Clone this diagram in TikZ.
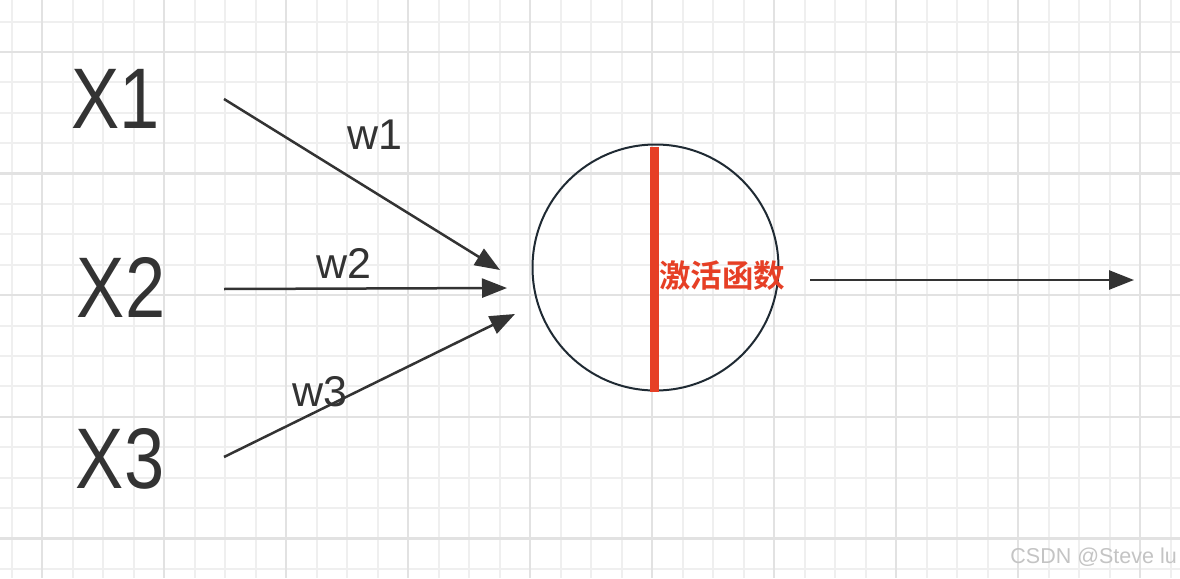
\documentclass[tikz,border=0pt]{standalone}
\usepackage{fontspec}
\setmainfont{Liberation Sans}
\newfontfamily\cjk{Noto Sans CJK SC Bold}
\usetikzlibrary{arrows.meta}
\definecolor{ink}{HTML}{333333}
\definecolor{rim}{HTML}{1F2A33}
\definecolor{actred}{HTML}{E63F25}
\definecolor{gridminor}{HTML}{EFEFEF}
\definecolor{gridmajor}{HTML}{E2E2E2}
\definecolor{wm}{HTML}{C4C4C4}
\newcommand{\narrowx}[1]{\scalebox{0.84}[1]{#1}}
\tikzset{
  bigvar/.style={inner sep=0pt, text=ink, font=\fontsize{86}{90}\selectfont},
  weight/.style={inner sep=0pt, text=ink, font=\fontsize{43}{46}\selectfont},
  link/.style={draw=ink, line width=2.5pt, -{Triangle[length=25pt,width=19pt]}},
}
\begin{document}
\begin{tikzpicture}[x=1pt,y=-1pt]
\useasboundingbox (0,0) rectangle (1180,578);
\fill[white] (0,0) rectangle (1180,578);
% grid
\foreach \k in {-1,...,37} {
  \pgfmathsetmacro{\gx}{42+30.5*\k}
  \draw[gridminor, line width=2pt] (\gx,0) -- (\gx,578);
}
\foreach \k in {-1,...,18} {
  \pgfmathsetmacro{\gy}{52+30.4*\k}
  \draw[gridminor, line width=2pt] (0,\gy) -- (1180,\gy);
}
\foreach \k in {0,...,9} {
  \pgfmathsetmacro{\gx}{42+122*\k}
  \draw[gridmajor, line width=2.5pt] (\gx,0) -- (\gx,578);
}
\foreach \k in {0,...,4} {
  \pgfmathsetmacro{\gy}{52+121.6*\k}
  \draw[gridmajor, line width=2.5pt] (0,\gy) -- (1180,\gy);
}
% inputs
\node[bigvar] (x1) at (115.5,99) {\narrowx{X1}};
\node[bigvar] (x2) at (121,287) {\narrowx{X2}};
\node[bigvar] (x3) at (120,459) {\narrowx{X3}};
\node[weight] (w1) at (375,135) {w1};
\node[weight] (w2) at (344,263) {w2};
\node[weight] (w3) at (320,392) {w3};
% neuron
\node[draw=rim, line width=2pt, circle, minimum size=246pt, inner sep=0pt] (neuron) at (655.5,267.5) {};
\coordinate (rtop) at (654,147);
\coordinate (rbot) at (654,392);
\draw[actred, line width=9pt] (rtop) -- (rbot);
\node[inner sep=0pt, anchor=west, text=actred, font=\cjk\fontsize{31.5}{33}\selectfont] (act) at (659,276) {激活函数};
% connectors
\coordinate (s1) at (224,99);   \coordinate (e1) at (500,270);
\coordinate (s2) at (224,289);  \coordinate (e2) at (507,288);
\coordinate (s3) at (224,457);  \coordinate (e3) at (515,314);
\coordinate (so) at (810,280);  \coordinate (eo) at (1134,280);
\draw[link] (s1) -- (e1);
\draw[link] (s2) -- (e2);
\draw[link] (s3) -- (e3);
\draw[link] (so) -- (eo);
% watermark
\node[inner sep=0pt, anchor=east, text=wm, font=\fontsize{21.5}{23}\selectfont] (mark) at (1177,557) {CSDN @Steve lu};
\end{tikzpicture}
\end{document}
